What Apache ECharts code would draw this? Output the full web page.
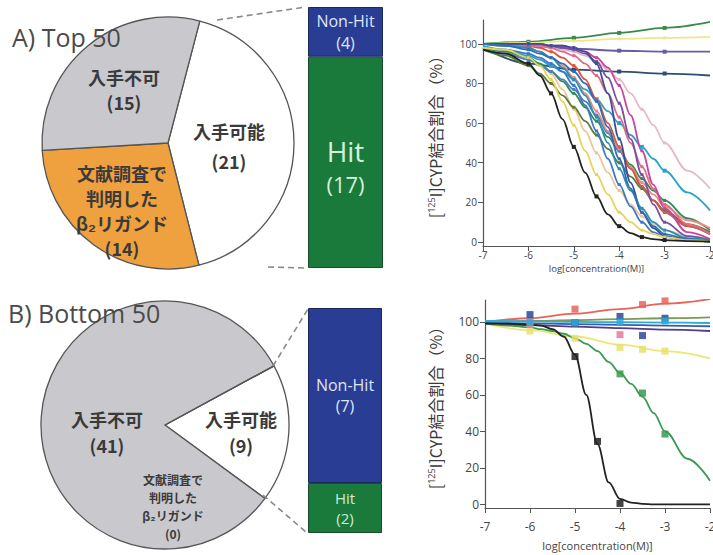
<!DOCTYPE html>
<html>
<head>
<meta charset="utf-8">
<script src="https://cdn.jsdelivr.net/npm/echarts@6/dist/echarts.min.js"></script>
<style>
  html, body { margin: 0; padding: 0; background: #fff; }
  #chart { width: 713px; height: 555px; }
</style>
</head>
<body>
<div id="chart"></div>
<script>
// 円グラフ（入手可能 / 入手不可 / 文献調査で判明したβ2リガンド）
const pieNames = ['入手可能', '入手不可', '文献調査で\n判明した\nβ₂リガンド']
const topCounts = [21, 15, 14]
const bottomCounts = [9, 41, 0]

// 入手可能のうち Hit / Non-Hit
const hitNames = ['Hit', 'Non-Hit']
const topHit = [17, 4]
const bottomHit = [2, 7]

// 用量反応曲線
const yTicks = [0, 20, 40, 60, 80, 100]
const xFine = [-7, -6.5, -6, -5.75, -5.5, -5.25, -5, -4.75, -4.5, -4.25, -4, -3.75, -3.5, -3.25, -3, -2.5, -2]
const xCoarse = [-7, -6, -5, -4, -3, -2]
const measured = [-6, -5.5, -5, -4.5, -4, -3.5, -3]

// A) Top 50
const topBlack = [97, 95, 90, 84, 75, 62, 48, 35, 23, 14, 8, 4.5, 2.5, 1.5, 1, 0.5, 0.3]
const topYellow = [98, 97, 93, 89, 82, 71, 59, 46, 34, 24, 15, 10, 6, 4, 2.5, 1, 0.5]
const topTan = [98, 96, 93, 90, 85, 77, 67, 56, 45, 35, 26, 19, 13, 9, 6, 3, 1.5]
const topBlue = [100, 99, 97, 95, 93, 90, 86, 80, 71, 58, 42, 27, 15, 8, 4, 1.5, 0.5]
const topBlue2 = [97, 95, 92, 89, 86, 82, 77, 71, 64, 55, 46, 37, 28, 21, 15, 8, 4]
const topCyan = [99, 97, 94, 92, 89, 86, 82, 77, 72, 66, 60, 54, 48, 42, 36, 25, 16]
const topTeal = [100, 99, 98, 96, 93, 88, 82, 74, 63, 50, 37, 26, 17, 10, 6, 2, 1]
const topGreen = [98, 96, 93, 90, 86, 81, 75, 68, 61, 53, 46, 39, 32, 26, 21, 12, 6]
const topOlive = [97, 94, 89, 85, 80, 74, 68, 61, 54, 47, 40, 33, 27, 21, 16, 9, 5]
const topRed = [100, 100, 99, 98, 96, 93, 89, 82, 72, 60, 48, 37, 28, 21, 15, 8, 4]
const topSalmon = [100, 99, 98, 96, 93, 89, 83, 75, 66, 56, 47, 38, 30, 24, 18, 11, 7]
const topMagenta = [100, 100, 100, 100, 99, 99, 98, 96, 93, 88, 79, 64, 46, 29, 17, 5, 1.5]
const topPurple = [100, 100, 100, 100, 99, 98, 97, 95, 91, 83, 70, 52, 34, 19, 10, 3, 1]
const topNavy = [100, 100, 100, 100, 99, 99, 98, 96, 90, 75, 52, 30, 15, 7, 3, 1, 0]
const topLightPink = [100, 100, 99, 99, 98, 97, 96, 94, 91, 87, 82, 75, 67, 59, 50, 36, 27]
const topRose = [100, 100, 99, 99, 98, 96, 94, 90, 84, 75, 63, 50, 38, 27, 19, 9, 4]
const topBlue3 = [98, 97, 95, 93, 90, 86, 79, 69, 56, 42, 29, 18, 10, 5, 2.5, 1, 0]
const topFlatGreen = [100, 101, 103, 105.5, 108, 111]
const topFlatYellow = [100, 100.5, 101.5, 102.5, 103, 103.5]
const topFlatPurple = [100, 99, 97.5, 96.5, 96, 96]
const topFlatNavy = [98, 90, 87, 86, 85, 84]

// B) Bottom 50
const botRed = [100, 102, 104.5, 107, 110, 112.5]
const botOlive = [100, 100.5, 101, 101.5, 102, 102.5]
const botCyan = [100.5, 100.3, 100, 99.8, 99.6, 99.4]
const botBlue = [99.5, 99.2, 98.8, 98.4, 98, 97.6]
const botPurple = [99, 98.2, 97.4, 96.6, 95.8, 95]
const botYellow = [99, 95.5, 92, 87.5, 84, 80]
const botGreen = [99, 98, 97, 96, 95, 93.5, 91, 88, 84, 78, 72, 66, 59, 50, 40, 25, 13]
const botBlack = [99, 99, 98.5, 98, 96, 92, 82, 60, 33, 12, 3, 1, 0.3, 0, 0, 0, 0]
const botRedPts = [[-5, 107], [-3.5, 109.5], [-3, 111.5]]
const botNavyPts = [[-6, 104], [-5, 99.5], [-4, 103], [-3.5, 92.5], [-3, 102]]
const botCyanPts = [[-6, 100], [-5, 99.5], [-4, 100], [-3, 100.5]]
const botPinkPts = [[-6, 99], [-4, 93]]
const botYellowPts = [[-6, 95], [-5, 91], [-4, 86], [-3.5, 85], [-3, 84]]
const botGreenPts = [[-4, 71.5], [-3.5, 61], [-3, 38.5]]
const botBlackPts = [[-5, 81], [-4.5, 34.5], [-4, 0.5]]

const jp = '"Noto Sans CJK JP", sans-serif'
const lat = '"Open Sans", "Noto Sans", sans-serif'

function curve (name, xs, ys, color, gi, sym) {
  return {
    name: name,
    type: 'line',
    xAxisIndex: gi,
    yAxisIndex: gi,
    smooth: 0.35,
    smoothMonotone: 'x',
    data: xs.map((x, i) => [x, ys[i]]),
    symbol: 'rect',
    showAllSymbol: true,
    symbolSize: v => (sym && measured.indexOf(v[0]) >= 0 ? sym : 0),
    lineStyle: { color: color, width: 1.8 },
    itemStyle: { color: color },
    silent: true,
    z: 3
  }
}

function points (name, pts, color) {
  return {
    name: name,
    type: 'scatter',
    xAxisIndex: 3,
    yAxisIndex: 3,
    data: pts,
    symbol: 'rect',
    symbolSize: 7,
    itemStyle: { color: color, opacity: 0.85 },
    silent: true,
    z: 4
  }
}

function pieLabel (x, y, text, size, lh) {
  return {
    type: 'text',
    x: x,
    y: y,
    z: 10,
    style: {
      text: text,
      align: 'center',
      verticalAlign: 'middle',
      font: 'bold ' + size + 'px ' + jp,
      lineHeight: lh,
      fill: '#3a3a3a'
    }
  }
}

function dash (x1, y1, x2, y2) {
  return {
    type: 'line',
    z: 5,
    shape: { x1: x1, y1: y1, x2: x2, y2: y2 },
    style: { stroke: '#8a8a8a', lineWidth: 1.6, lineDash: [6, 4] }
  }
}

function lineYAxis (gi, size, margin, gap) {
  return {
    gridIndex: gi,
    type: 'value',
    min: -2,
    max: 112,
    axisLine: { show: true, lineStyle: { color: '#555', width: 1.2 } },
    axisTick: { show: true, length: 5, customValues: yTicks, lineStyle: { color: '#555' } },
    axisLabel: { customValues: yTicks, fontSize: size, color: '#444', margin: margin, fontFamily: lat },
    splitLine: { show: false },
    name: '[{s|125}I]CYP結合割合（%）',
    nameLocation: 'middle',
    nameRotate: 90,
    nameGap: gap,
    nameTextStyle: {
      fontSize: 16, color: '#3a3a3a', fontFamily: jp,
      rich: { s: { fontSize: 9, verticalAlign: 'top', color: '#3a3a3a', fontFamily: lat } }
    }
  }
}

function lineXAxis (gi, size, margin, gap, nameSize) {
  return {
    gridIndex: gi,
    type: 'value',
    min: -7,
    max: -2,
    interval: 1,
    axisLine: { show: true, onZero: false, lineStyle: { color: '#555', width: 1.2 } },
    axisTick: { show: true, length: 5, lineStyle: { color: '#555' } },
    axisLabel: { fontSize: size, color: '#444', margin: margin, fontFamily: lat },
    splitLine: { show: false },
    name: 'log[concentration(M)]',
    nameLocation: 'middle',
    nameGap: gap,
    nameTextStyle: { fontSize: nameSize, color: '#444', fontFamily: lat }
  }
}

function barAxisX (gi) {
  return { gridIndex: gi, type: 'category', data: ['入手可能'], show: false }
}
function barAxisY (gi, total) {
  return { gridIndex: gi, type: 'value', min: 0, max: total, show: false }
}

function barLabel (p) {
  return '{h|' + p.seriesName + '}\n{v|(' + p.value + ')}'
}

const topPieData = [0, 2, 1].map(i => ({ name: pieNames[i], value: topCounts[i] }))
const bottomPieData = [0, 1, 2].map(i => ({ name: pieNames[i], value: bottomCounts[i] }))
const pieColors = ['#ffffff', '#c9c9cd', '#f0a13f']

const option = {
  animation: false,
  backgroundColor: '#fff',
  title: [
    { text: 'A) Top 50', left: 7, top: 19, textStyle: { fontSize: 25, fontWeight: 'normal', color: '#4a4a4a', fontFamily: lat } },
    { text: 'B) Bottom 50', left: 3, top: 295, textStyle: { fontSize: 25, fontWeight: 'normal', color: '#4a4a4a', fontFamily: lat } }
  ],
  grid: [
    { left: 308, top: 7, width: 75, height: 261, outerBoundsMode: 'none' },
    { left: 308, top: 308, width: 74, height: 225, outerBoundsMode: 'none' },
    { left: 483, top: 20, width: 227, height: 226, outerBoundsMode: 'none' },
    { left: 485, top: 300, width: 225, height: 208, outerBoundsMode: 'none' }
  ],
  xAxis: [barAxisX(0), barAxisX(1), lineXAxis(2, 10, 4, 17, 9.5), lineXAxis(3, 12, 12, 32, 11)],
  yAxis: [
    barAxisY(0, topHit[0] + topHit[1]),
    barAxisY(1, bottomHit[0] + bottomHit[1]),
    lineYAxis(2, 10, 6, 40),
    lineYAxis(3, 12, 6, 42)
  ],
  graphic: [
    dash(217, 20, 306, 7),
    dash(268, 267, 306, 268),
    dash(273, 366, 308, 309),
    dash(263, 495, 306, 532),
    pieLabel(124, 89, pieNames[1] + '\n(' + topCounts[1] + ')', 18, 25),
    pieLabel(229, 146, pieNames[0] + '\n(' + topCounts[0] + ')', 18, 30),
    pieLabel(122, 210, pieNames[2] + '\n(' + topCounts[2] + ')', 18, 25),
    pieLabel(107, 432, pieNames[1] + '\n(' + bottomCounts[1] + ')', 18, 26),
    pieLabel(241, 432, pieNames[0] + '\n(' + bottomCounts[0] + ')', 18, 26),
    pieLabel(173, 506, pieNames[2] + '\n(' + bottomCounts[2] + ')', 12, 18)
  ],
  series: [
    {
      type: 'pie',
      center: [168, 143],
      radius: 126,
      startAngle: 75.4,
      silent: true,
      label: { show: false },
      labelLine: { show: false },
      data: topPieData,
      color: [pieColors[0], pieColors[2], pieColors[1]],
      itemStyle: { borderColor: '#555', borderWidth: 1.3 }
    },
    {
      type: 'pie',
      center: [165, 425],
      radius: 124,
      startAngle: 28.5,
      silent: true,
      label: { show: false },
      labelLine: { show: false },
      data: bottomPieData,
      color: [pieColors[0], '#c6c6c6', pieColors[2]],
      itemStyle: { borderColor: '#555', borderWidth: 1.3 }
    },
    {
      name: hitNames[0], type: 'bar', stack: 'a', xAxisIndex: 0, yAxisIndex: 0, barWidth: '100%',
      data: [topHit[0]], itemStyle: { color: '#1a7a3c', borderColor: '#1c4a2c', borderWidth: 1 },
      label: { show: true, position: 'inside', formatter: barLabel, color: '#d6f0dc', fontFamily: lat,
        padding: [8, 0, 0, 0],
        rich: { h: { fontSize: 28, lineHeight: 36, color: '#d6f0dc' }, v: { fontSize: 22, lineHeight: 30, color: '#d6f0dc' } } }
    },
    {
      name: hitNames[1], type: 'bar', stack: 'a', xAxisIndex: 0, yAxisIndex: 0, barWidth: '100%',
      data: [topHit[1]], itemStyle: { color: '#293d95', borderColor: '#1c2a5a', borderWidth: 1 },
      label: { show: true, position: 'inside', formatter: barLabel, color: '#dfe6f5', fontFamily: lat,
        rich: { h: { fontSize: 16, lineHeight: 22, color: '#dfe6f5' }, v: { fontSize: 16, lineHeight: 22, color: '#dfe6f5' } } }
    },
    {
      name: hitNames[0], type: 'bar', stack: 'b', xAxisIndex: 1, yAxisIndex: 1, barWidth: '100%',
      data: [bottomHit[0]], itemStyle: { color: '#1a7a3c', borderColor: '#1c4a2c', borderWidth: 1 },
      label: { show: true, position: 'inside', formatter: barLabel, color: '#cdeed6', fontFamily: lat,
        rich: { h: { fontSize: 15, lineHeight: 20, color: '#cdeed6' }, v: { fontSize: 15, lineHeight: 20, color: '#cdeed6' } } }
    },
    {
      name: hitNames[1], type: 'bar', stack: 'b', xAxisIndex: 1, yAxisIndex: 1, barWidth: '100%',
      data: [bottomHit[1]], itemStyle: { color: '#293d95', borderColor: '#1c2a5a', borderWidth: 1 },
      label: { show: true, position: 'inside', formatter: barLabel, color: '#dfe6f5', fontFamily: lat,
        rich: { h: { fontSize: 16, lineHeight: 21, color: '#dfe6f5' }, v: { fontSize: 16, lineHeight: 21, color: '#dfe6f5' } } }
    },
    curve('flatGreen', xCoarse, topFlatGreen, '#3a8a4a', 2, 4),
    curve('flatYellow', xCoarse, topFlatYellow, '#eee68a', 2, 3),
    curve('flatPurple', xCoarse, topFlatPurple, '#6a5aa8', 2, 4),
    curve('flatNavy', xCoarse, topFlatNavy, '#2a4f70', 2, 4),
    curve('lightPink', xFine, topLightPink, '#e6b8c8', 2, 3),
    curve('tan', xFine, topTan, '#ecc796', 2, 3),
    curve('cyan', xFine, topCyan, '#2aa3c8', 2, 4),
    curve('olive', xFine, topOlive, '#5d7a3a', 2, 3),
    curve('green', xFine, topGreen, '#2e8b57', 2, 3),
    curve('blue2', xFine, topBlue2, '#4a7fc0', 2, 3),
    curve('salmon', xFine, topSalmon, '#ef8a80', 2, 3),
    curve('red', xFine, topRed, '#e0533f', 2, 3),
    curve('rose', xFine, topRose, '#e06a8a', 2, 3),
    curve('magenta', xFine, topMagenta, '#c8479a', 2, 3),
    curve('purple', xFine, topPurple, '#7a4fa0', 2, 3),
    curve('navy', xFine, topNavy, '#3a4f9a', 2, 3),
    curve('teal', xFine, topTeal, '#2b8fb0', 2, 3),
    curve('blue', xFine, topBlue, '#2f6db5', 2, 3),
    curve('blue3', xFine, topBlue3, '#3f76c8', 2, 3),
    curve('yellow', xFine, topYellow, '#e6d35a', 2, 3),
    curve('black', xFine, topBlack, '#222', 2, 4),
    curve('bRed', xCoarse, botRed, '#e8645a', 3, 0),
    curve('bOlive', xCoarse, botOlive, '#7a9a5a', 3, 0),
    curve('bPurple', xCoarse, botPurple, '#5a3a80', 3, 0),
    curve('bBlue', xCoarse, botBlue, '#3060b0', 3, 0),
    curve('bCyan', xCoarse, botCyan, '#30a8d8', 3, 0),
    curve('bYellow', xCoarse, botYellow, '#ece67a', 3, 0),
    curve('bGreen', xFine, botGreen, '#3a9a50', 3, 0),
    curve('bBlack', xFine, botBlack, '#222', 3, 0),
    points('pRed', botRedPts, '#e8645a'),
    points('pPink', botPinkPts, '#e07aa0'),
    points('pNavy', botNavyPts, '#2a4a9a'),
    points('pCyan', botCyanPts, '#30a8d8'),
    points('pYellow', botYellowPts, '#e8e070'),
    points('pGreen', botGreenPts, '#3a9a50'),
    points('pBlack', botBlackPts, '#222')
  ]
}

const chart = echarts.init(document.getElementById('chart'), null, { renderer: 'svg' })
chart.setOption(option)
</script>
</body>
</html>
